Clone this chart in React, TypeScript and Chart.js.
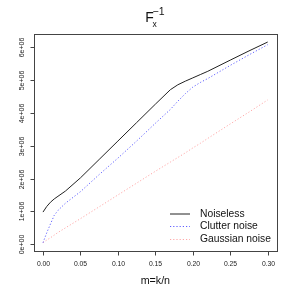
import React, { useEffect, useRef } from "react";
import { Chart, registerables } from "chart.js";

Chart.register(...registerables);

const mValues = [0, 0.005, 0.01, 0.015, 0.02, 0.03, 0.05, 0.075, 0.1, 0.125, 0.15, 0.17, 0.18, 0.19, 0.2, 0.21, 0.22, 0.25, 0.275, 0.3];
const noiseless = [0.98e6, 1.15e6, 1.28e6, 1.38e6, 1.46e6, 1.62e6, 2.02e6, 2.58e6, 3.14e6, 3.7e6, 4.26e6, 4.7e6, 4.85e6, 4.96e6, 5.06e6, 5.16e6, 5.26e6, 5.6e6, 5.88e6, 6.15e6];
const clutterNoise = [0.05e6, 0.35e6, 0.62e6, 0.88e6, 1.03e6, 1.25e6, 1.6e6, 2.12e6, 2.62e6, 3.14e6, 3.68e6, 4.1e6, 4.35e6, 4.58e6, 4.78e6, 4.92e6, 5.04e6, 5.44e6, 5.76e6, 6.07e6];
const gaussianNoise = [0.05e6, 0.13e6, 0.2e6, 0.28e6, 0.36e6, 0.5e6, 0.78e6, 1.14e6, 1.5e6, 1.86e6, 2.22e6, 2.5e6, 2.64e6, 2.78e6, 2.93e6, 3.07e6, 3.22e6, 3.66e6, 4.02e6, 4.39e6];

const seriesNames = ["Noiseless", "Clutter noise", "Gaussian noise"];
const xTicks = [0, 0.05, 0.1, 0.15, 0.2, 0.25, 0.3];
const xTickLabels = ["0.00", "0.05", "0.10", "0.15", "0.20", "0.25", "0.30"];
const yTicks = [0, 1e6, 2e6, 3e6, 4e6, 5e6, 6e6];
const yTickLabels = ["0e+00", "1e+06", "2e+06", "3e+06", "4e+06", "5e+06", "6e+06"];

const FONT = "'Liberation Sans', Arial, sans-serif";
const colors = ["#222222", "rgb(95,95,255)", "#ffa8a8"];
const dashes: number[][] = [[], [1.2, 2], [1.2, 2]];

const decor = {
  id: "rDecor",
  afterDraw(chart: any) {
    const ctx = chart.ctx;
    const xs = chart.scales.x;
    const ys = chart.scales.y;
    const a = chart.chartArea;
    ctx.save();
    ctx.strokeStyle = "#444";
    ctx.lineWidth = 1;
    ctx.setLineDash([]);
    const L = Math.round(a.left) + 0.5;
    const R = Math.round(a.right) + 0.5;
    const T = Math.round(a.top) + 0.5;
    const B = Math.round(a.bottom) + 0.5;
    ctx.strokeRect(L, T, R - L, B - T);
    ctx.fillStyle = "#222";
    ctx.font = `6.8px ${FONT}`;
    ctx.textAlign = "center";
    ctx.textBaseline = "middle";
    xTicks.forEach((v, i) => {
      const px = Math.round(xs.getPixelForValue(v)) + 0.5;
      ctx.beginPath();
      ctx.moveTo(px, B);
      ctx.lineTo(px, B + 4);
      ctx.stroke();
      ctx.fillText(xTickLabels[i], px, 264.5);
    });
    ctx.font = `7px ${FONT}`;
    yTicks.forEach((v, i) => {
      const py = Math.round(ys.getPixelForValue(v)) + 0.5;
      ctx.beginPath();
      ctx.moveTo(L, py);
      ctx.lineTo(L - 4, py);
      ctx.stroke();
      ctx.save();
      ctx.translate(22, py);
      ctx.rotate(-Math.PI / 2);
      ctx.fillText(yTickLabels[i], 0, 0);
      ctx.restore();
    });
    ctx.font = `10.7px ${FONT}`;
    ctx.fillStyle = "#111";
    ctx.fillText("m=k/n", (a.left + a.right) / 2, 281.5);
    ctx.textAlign = "left";
    ctx.textBaseline = "alphabetic";
    ctx.font = `14px ${FONT}`;
    ctx.fillText("F", 145.3, 22);
    ctx.font = `8.5px ${FONT}`;
    ctx.fillText("x", 152.6, 27);
    ctx.font = `10.5px ${FONT}`;
    ctx.fillText("\u22121", 152.5, 15);
    ctx.font = `10.3px ${FONT}`;
    ctx.textBaseline = "middle";
    const rows = [213.5, 226, 239];
    seriesNames.forEach((name, i) => {
      ctx.strokeStyle = colors[i];
      ctx.setLineDash(dashes[i]);
      ctx.beginPath();
      ctx.moveTo(170, rows[i] + 0.5);
      ctx.lineTo(190, rows[i] + 0.5);
      ctx.stroke();
      ctx.setLineDash([]);
      ctx.fillStyle = "#111";
      ctx.fillText(name, 200, rows[i] + 0.5);
    });
    ctx.restore();
  },
};

export default function App() {
  const ref = useRef<HTMLCanvasElement | null>(null);
  useEffect(() => {
    if (!ref.current) return;
    const series = [noiseless, clutterNoise, gaussianNoise];
    const chart = new Chart(ref.current, {
      type: "line",
      data: {
        labels: mValues,
        datasets: series.map((s, i) => ({
          label: seriesNames[i],
          data: s.map((v, j) => ({ x: mValues[j], y: v })),
          borderColor: colors[i],
          borderWidth: 1,
          borderDash: dashes[i],
          pointRadius: 0,
          tension: 0,
          fill: false,
        })),
      },
      options: {
        responsive: false,
        animation: false,
        events: [],
        layout: { padding: { left: 34, top: 34, right: 17.3, bottom: 43.3 } },
        plugins: { legend: { display: false }, title: { display: false }, tooltip: { enabled: false } },
        scales: {
          x: { type: "linear", display: false, min: -0.012, max: 0.312 },
          y: { type: "linear", display: false, min: -0.194e6, max: 6.394e6 },
        },
      },
      plugins: [decor],
    });
    return () => chart.destroy();
  }, []);
  return (
    <div style={{ position: "absolute", left: 0, top: 0, width: 294, height: 294, background: "#fff" }}>
      <canvas ref={ref} width={294} height={294} style={{ width: 294, height: 294, display: "block" }} />
    </div>
  );
}
